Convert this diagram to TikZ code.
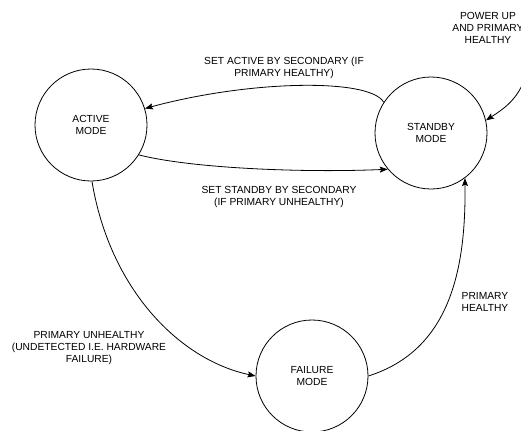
\documentclass[tikz,border=0pt]{standalone}
\usepackage{fontspec}
\setmainfont{Liberation Sans}
\usetikzlibrary{arrows.meta}
\newlength{\modesize}
\setlength{\modesize}{84pt}

\begin{document}
\begin{tikzpicture}[x=0.75pt, y=-0.75pt,
    mode/.style={draw, circle, line width=0.6pt, minimum size=\modesize,
      inner sep=0pt, align=center, font=\fontsize{7.7}{8.8}\selectfont},
    cond/.style={align=center, font=\fontsize{7.7}{9}\selectfont},
    trans/.style={-{Stealth[length=6pt, width=4.5pt, inset=1pt]}, line width=0.6pt}]
  \useasboundingbox (0,0) rectangle (521,430);
  \clip (0,0) rectangle (521,430);
  \node[mode] (active) at (91,125) {ACTIVE\\MODE};
  \node[mode] (standby) at (431,133) {STANDBY\\MODE};
  \node[mode] (failure) at (312,376) {FAILURE\\MODE};
  \coordinate (powerup) at (528,62);
  \draw[trans] (powerup) .. controls (525,95) and (505,108) .. (standby.13);
  \draw[trans] (standby.147) .. controls (370,78) and (250,80) .. (active.17);
  \draw[trans] (active.-32) .. controls (190,168) and (300,173) .. (standby.-140);
  \draw[trans] (active.-89) .. controls (110,290) and (180,360) .. (failure.180);
  \draw[trans] (failure.0) .. controls (450,350) and (466,270) .. (standby.-53);
  \node[cond] (powerlabel) at (488,27.5) {POWER UP\\AND PRIMARY\\HEALTHY};
  \node[cond] (activelabel) at (284,68) {SET ACTIVE BY SECONDARY (IF\\PRIMARY HEALTHY)};
  \node[cond] (standbylabel) at (279,197) {SET STANDBY BY SECONDARY\\(IF PRIMARY UNHEALTHY)};
  \node[cond] (failurelabel) at (89,348) {PRIMARY UNHEALTHY\\(UNDETECTED I.E. HARDWARE\\FAILURE)};
  \node[cond] (healthylabel) at (485,302) {PRIMARY\\HEALTHY};
\end{tikzpicture}
\end{document}
